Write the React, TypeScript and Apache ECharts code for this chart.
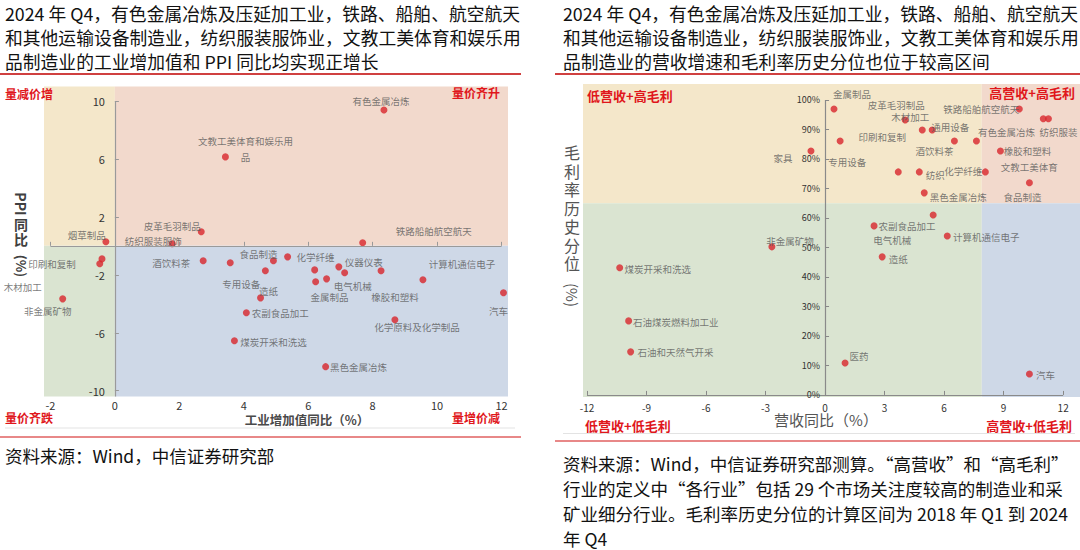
import React, { useEffect, useRef } from 'react';
import * as echarts from 'echarts';

const FONT = "'Noto Sans CJK SC', 'Noto Sans', sans-serif";

// ---------- texts ----------
const titleCommon = [
  '2024 年 Q4，有色金属冶炼及压延加工业，铁路、船舶、航空航天',
  '和其他运输设备制造业，纺织服装服饰业，文教工美体育和娱乐用',
];
const leftTitleLast = '品制造业的工业增加值和 PPI 同比均实现正增长';
const rightTitleLast = '品制造业的营收增速和毛利率历史分位也位于较高区间';
const leftSource = ['资料来源：Wind，中信证券研究部'];
const rightSource = [
  '资料来源：Wind，中信证券研究部测算。“高营收”和“高毛利”',
  '行业的定义中“各行业”包括 29 个市场关注度较高的制造业和采',
  '矿业细分行业。毛利率历史分位的计算区间为 2018 年 Q1 到 2024',
  '年 Q4',
];
const leftCorners = ['量减价增', '量价齐升', '量价齐跌', '量增价减'];
const rightCorners = ['低营收+高毛利', '高营收+高毛利', '低营收+低毛利', '高营收+低毛利'];

// ---------- left chart data: 工业增加值同比 vs PPI同比 ----------
const leftIndustries = [
  '有色金属冶炼', '文教工美体育和娱乐用品', '皮革毛羽制品', '烟草制品', '纺织服装服饰',
  '铁路船舶航空航天', '印刷和复制', '木材加工', '非金属矿物', '酒饮料茶',
  '纺织', '食品制造', '专用设备', '造纸', '农副食品加工',
  '煤炭开采和洗选', '化学纤维', '通用设备', '医药', '金属制品',
  '仪器仪表', '电气机械', '橡胶和塑料', '计算机通信电子', '汽车',
  '化学原料及化学制品', '黑色金属冶炼',
];
const leftValueAddedYoY = [
  8.35, 3.43, 2.68, -0.28, 1.78,
  7.69, -0.4, -0.47, -1.62, 2.74,
  3.58, 4.92, 4.67, 4.52, 4.08,
  3.71, 5.36, 6.2, 6.23, 6.57,
  6.95, 7.13, 8.26, 9.56, 12.06,
  8.69, 6.54,
];
const leftPpiYoY = [
  9.38, 6.14, 0.97, 0.28, 0.14,
  0.21, -0.9, -1.24, -3.66, -1.03,
  -1.17, -1.03, -1.72, -3.59, -4.62,
  -6.55, -0.76, -1.66, -2.48, -2.28,
  -1.45, -1.86, -1.72, -2.34, -3.24,
  -5.1, -8.34,
];
const leftXTicks = [-2, 0, 2, 4, 6, 8, 10, 12];
const leftYTicks = [-10, -6, -2, 2, 6, 10];

// ---------- right chart data: 营收同比 vs 毛利率历史分位 ----------
const rightIndustries = [
  '金属制品', '印刷和复制', '家具', '皮革毛羽制品', '木材加工',
  '通用设备', '酒饮料茶', '有色金属冶炼', '铁路船舶航空航天', '文教工美体育',
  '纺织服装', '橡胶和塑料', '专用设备', '纺织', '化学纤维',
  '食品制造', '黑色金属冶炼', '电气机械', '农副食品加工', '计算机通信电子',
  '非金属矿物', '煤炭开采和洗选', '石油煤炭燃料加工业', '石油和天然气开采', '造纸',
  '医药', '汽车',
];
const rightRevenueYoY = [
  0.45, 0.76, -0.71, 4.04, 4.9,
  5.4, 6.52, 7.63, 9.79, 11.0,
  11.26, 8.84, 3.69, 4.75, 8.08,
  10.3, 5.0, 5.45, 2.47, 6.16,
  -2.68, -10.35, -9.9, -9.8, 2.88,
  1.01, 10.3,
];
const rightMarginPct = [
  96.9, 86.1, 82.7, 93.2, 89.8,
  89.8, 86.1, 86.1, 96.9, 93.6,
  93.6, 82.7, 75.6, 75.6, 75.6,
  71.9, 68.5, 61.0, 57.3, 53.9,
  50.2, 43.1, 25.1, 14.6, 46.8,
  10.8, 7.1,
];
const rightXTicks = [-12, -9, -6, -3, 0, 3, 6, 9, 12];
const rightYTicks = [0, 10, 20, 30, 40, 50, 60, 70, 80, 90, 100];
const rightRevenueThreshold = 7.9;
const rightMarginThreshold = 65;

// ---------- layout (label offsets from dot centre, px) ----------
const leftLabelOffset: Record<string, [number, number]> = {
  '有色金属冶炼': [-3, -9],
  '文教工美体育和娱乐用品': [20, -8],
  '皮革毛羽制品': [-29, -6],
  '烟草制品': [-19, -7],
  '纺织服装服饰': [-19, -3],
  '铁路船舶航空航天': [71, -12],
  '印刷和复制': [-50, 5],
  '木材加工': [-77, 23],
  '非金属矿物': [-15, 12],
  '酒饮料茶': [-32, 2],
  '食品制造': [-15, -7],
  '专用设备': [-24, 13],
  '造纸': [8, -7],
  '农副食品加工': [34, 0],
  '煤炭开采和洗选': [39, 1],
  '化学纤维': [28, 0],
  '金属制品': [3, 18],
  '仪器仪表': [25, -5],
  '电气机械': [8, 13],
  '橡胶和塑料': [14, 26],
  '计算机通信电子': [39, -16],
  '汽车': [-5, 18],
  '化学原料及化学制品': [22, 7],
  '黑色金属冶炼': [33, 0],
};
const leftLabelText: Record<string, string> = {
  '文教工美体育和娱乐用品': '文教工美体育和娱乐用\n品',
};
const rightLabelOffset: Record<string, [number, number]> = {
  '金属制品': [18, -15],
  '印刷和复制': [42, -4],
  '家具': [-28, 7],
  '皮革毛羽制品': [-9, -15],
  '木材加工': [-12, -13],
  '通用设备': [18, -3],
  '酒饮料茶': [-20, 10],
  '有色金属冶炼': [30, -9],
  '铁路船舶航空航天': [-38, 0],
  '文教工美体育': [-14, 48],
  '纺织服装': [10, 13],
  '橡胶和塑料': [27, 0],
  '专用设备': [-51, -10],
  '纺织': [16, 3],
  '化学纤维': [-22, -1],
  '食品制造': [-7, 14],
  '黑色金属冶炼': [34, 4],
  '电气机械': [-41, 25],
  '农副食品加工': [33, 0],
  '计算机通信电子': [39, 1],
  '非金属矿物': [18, -6],
  '煤炭开采和洗选': [38, 1],
  '石油煤炭燃料加工业': [47, 1],
  '石油和天然气开采': [45, 0],
  '造纸': [16, 2],
  '医药': [14, -7],
  '汽车': [16, 1],
};

const C_YELLOW = '#F4E7CA';
const C_PINK = '#F2D9CC';
const C_GREEN = '#DAE4D1';
const C_BLUE = '#CED8E7';
const C_RED = '#E0161B';
const C_DOT = '#D8262C';

function buildOption() {
  const LX = [-2.2, 12.2];
  const LY = [-10.4, 11];
  const RX = [-12.2, 12.85];
  const RY = [-0.7, 105.4];
  const LG = { left: 44, top: 86.5, width: 464, height: 310 };
  const RG = { left: 583, top: 84, width: 497, height: 313 };

  // pixel positions of the zero of each axis (for the crossing axes)
  const lx0 = LG.left + ((0 - LX[0]) / (LX[1] - LX[0])) * LG.width;
  const ly0 = LG.top + ((LY[1] - 0) / (LY[1] - LY[0])) * LG.height;
  const rx0 = RG.left + ((0 - RX[0]) / (RX[1] - RX[0])) * RG.width;
  const ry0 = RG.top + ((RY[1] - 0) / (RY[1] - RY[0])) * RG.height;

  const grids = [
    LG,
    RG,
    { left: lx0, top: LG.top, width: 20, height: LG.height }, // left y axis at x=0
    { left: LG.left, top: LG.top, width: LG.width, height: ly0 - LG.top }, // left x axis at y=0
    { left: rx0, top: RG.top, width: 20, height: RG.height }, // right y axis at x=0
    { left: RG.left, top: RG.top, width: RG.width, height: ry0 - RG.top }, // right x axis at y=0
  ];

  const hiddenAxis = (gridIndex: number, min: number, max: number) => ({
    gridIndex, type: 'value', min, max, show: false, splitLine: { show: false },
  });

  const leftData = leftIndustries.map((name, i) => {
    const off = leftLabelOffset[name];
    return {
      name,
      value: [leftValueAddedYoY[i], leftPpiYoY[i]],
      label: off ? { show: true, offset: off } : { show: false },
    };
  });
  const rightData = rightIndustries.map((name, i) => {
    const off = rightLabelOffset[name];
    return {
      name,
      value: [rightRevenueYoY[i], rightMarginPct[i]],
      label: off ? { show: true, offset: off } : { show: false },
    };
  });

  const labelBase = {
    show: true,
    position: 'inside',
    fontSize: 9.5,
    color: '#595959',
    fontFamily: FONT,
    lineHeight: 16,
    textBorderWidth: 0,
  };

  const textEl = (text: string, x: number, y: number, style: any = {}, extra: any = {}) => ({
    type: 'text',
    x,
    y,
    z: 100,
    silent: true,
    ...extra,
    style: { text, fontFamily: FONT, fill: '#000', ...style },
  });
  const lineEl = (x1: number, y1: number, x2: number, y2: number, stroke: string, lineWidth = 1) => ({
    type: 'line',
    z: 100,
    silent: true,
    shape: { x1, y1, x2, y2 },
    style: { stroke, lineWidth },
  });

  const titleStyle = { fontSize: 17.8, lineHeight: 24, verticalAlign: 'top', fill: '#111' };
  const srcStyle = { fontSize: 17.5, lineHeight: 25, verticalAlign: 'top', fill: '#111' };
  const cornerStyleL = { fontSize: 12, fontWeight: 'bold', fill: C_RED, verticalAlign: 'middle' };
  const cornerStyleR = { fontSize: 13, fontWeight: 'bold', fill: C_RED, verticalAlign: 'middle' };

  const graphic = [
    // titles
    textEl([...titleCommon, leftTitleLast].join('\n'), 5, 1, titleStyle),
    textEl([...titleCommon, rightTitleLast].join('\n'), 563, 1, titleStyle),
    lineEl(0, 74, 521, 74, '#C00000', 1.5),
    lineEl(555, 74, 1080, 74, '#C00000', 1.5),
    // bottom separators
    lineEl(5, 428, 515, 428, '#E3E3E3', 1),
    lineEl(0, 437, 521, 437, '#E06060', 1.5),
    lineEl(563, 433.5, 1075, 433.5, '#E3E3E3', 1),
    lineEl(555, 441, 1080, 441, '#E06060', 1.5),
    // sources
    textEl(leftSource.join('\n'), 5, 443, srcStyle),
    textEl(rightSource.join('\n'), 563, 451, srcStyle),
    // corner labels left
    textEl(leftCorners[0], 5, 93, cornerStyleL),
    textEl(leftCorners[1], 500, 92, { ...cornerStyleL, align: 'right' }),
    textEl(leftCorners[2], 5, 417, cornerStyleL),
    textEl(leftCorners[3], 500, 417, { ...cornerStyleL, align: 'right' }),
    // corner labels right
    textEl(rightCorners[0], 587, 95, cornerStyleR),
    textEl(rightCorners[1], 1075, 92, { ...cornerStyleR, align: 'right' }),
    textEl(rightCorners[2], 585, 425, cornerStyleR),
    textEl(rightCorners[3], 1072, 425, { ...cornerStyleR, align: 'right' }),
    // left axis names
    textEl('工业增加值同比（%）', 307, 419.5, { fontSize: 12.5, fontWeight: 'bold', fill: '#4a4a4a', align: 'center', verticalAlign: 'middle' }),
    textEl('PPI', 21, 204, { fontSize: 14, fontWeight: 'bold', fill: '#404040', align: 'center', verticalAlign: 'middle' }, { rotation: -Math.PI / 2 }),
    textEl('同\n比', 21, 231.5, { fontSize: 14, lineHeight: 15, fontWeight: 'bold', fill: '#404040', align: 'center', verticalAlign: 'middle' }),
    textEl('(%)', 21, 266, { fontSize: 13, fontWeight: 'bold', fill: '#404040', align: 'center', verticalAlign: 'middle' }, { rotation: -Math.PI / 2 }),
    // right axis names
    textEl('营收同比（%）', 826, 419, { fontSize: 15, fill: '#555', align: 'center', verticalAlign: 'middle' }),
    textEl('毛\n利\n率\n历\n史\n分\n位', 572, 207.5, { fontSize: 16, lineHeight: 18.5, fill: '#555', align: 'center', verticalAlign: 'middle' }),
    textEl('(%)', 572, 295, { fontSize: 15, fill: '#555', align: 'center', verticalAlign: 'middle' }, { rotation: -Math.PI / 2 }),
  ];

  return {
    animation: false,
    backgroundColor: '#ffffff',
    textStyle: { fontFamily: FONT },
    grid: grids,
    xAxis: [
      {
        gridIndex: 0, type: 'value', min: LX[0], max: LX[1], position: 'bottom', z: 20,
        axisLine: { show: false, onZero: false },
        axisTick: { show: false },
        splitLine: { show: false },
        axisLabel: { customValues: leftXTicks, margin: 3, fontSize: 11, color: '#333' },
      },
      hiddenAxis(1, RX[0], RX[1]),
      hiddenAxis(2, 0, 1),
      {
        gridIndex: 3, type: 'value', min: LX[0], max: LX[1], position: 'bottom', z: 20,
        axisLine: { show: false, onZero: false },
        axisTick: { show: true, inside: true, length: 4, customValues: leftXTicks, lineStyle: { color: '#999' } },
        axisLabel: { show: false },
        splitLine: { show: false },
      },
      hiddenAxis(4, 0, 1),
      {
        gridIndex: 5, type: 'value', min: RX[0], max: RX[1], position: 'bottom', z: 20,
        axisLine: { show: false, onZero: false },
        axisTick: { show: true, inside: true, length: 4, customValues: rightXTicks, lineStyle: { color: '#888' } },
        axisLabel: { customValues: rightXTicks, margin: 8, fontSize: 10, color: '#333' },
        splitLine: { show: false },
      },
    ],
    yAxis: [
      hiddenAxis(0, LY[0], LY[1]),
      hiddenAxis(1, RY[0], RY[1]),
      {
        gridIndex: 2, type: 'value', min: LY[0], max: LY[1], position: 'left', z: 20,
        axisLine: { show: false, onZero: false },
        axisTick: { show: true, inside: true, length: 4, customValues: leftYTicks, lineStyle: { color: '#999' } },
        axisLabel: { customValues: leftYTicks, margin: 10, fontSize: 11, color: '#333' },
        splitLine: { show: false },
      },
      hiddenAxis(3, 0, LY[1]),
      {
        gridIndex: 4, type: 'value', min: RY[0], max: RY[1], position: 'left', z: 20,
        axisLine: { show: false, onZero: false },
        axisTick: { show: true, inside: true, length: 4, customValues: rightYTicks, lineStyle: { color: '#888' } },
        axisLabel: { customValues: rightYTicks, formatter: '{value}%', margin: 5, fontSize: 9, color: '#333' },
        splitLine: { show: false },
      },
      hiddenAxis(5, 0, RY[1]),
    ],
    series: [
      {
        type: 'scatter',
        xAxisIndex: 0,
        yAxisIndex: 0,
        symbolSize: 7,
        itemStyle: { color: C_DOT },
        label: { ...labelBase, formatter: (p: any) => leftLabelText[p.name] ?? p.name },
        data: leftData,
        markArea: {
          silent: true,
          data: [
            [{ xAxis: LX[0], yAxis: 0, itemStyle: { color: C_YELLOW } }, { xAxis: 0, yAxis: LY[1] }],
            [{ xAxis: 0, yAxis: 0, itemStyle: { color: C_PINK } }, { xAxis: LX[1], yAxis: LY[1] }],
            [{ xAxis: LX[0], yAxis: LY[0], itemStyle: { color: C_GREEN } }, { xAxis: 0, yAxis: 0 }],
            [{ xAxis: 0, yAxis: LY[0], itemStyle: { color: C_BLUE } }, { xAxis: LX[1], yAxis: 0 }],
          ],
        },
        markLine: {
          silent: true,
          symbol: ['none', 'none'],
          label: { show: false },
          lineStyle: { color: '#9a9a9a', width: 1.2, type: 'solid' },
          data: [
            [{ coord: [leftXTicks[0], 0] }, { coord: [leftXTicks[leftXTicks.length - 1], 0] }],
            [{ coord: [0, LY[0]] }, { coord: [0, leftYTicks[leftYTicks.length - 1]] }],
          ],
        },
      },
      {
        type: 'scatter',
        xAxisIndex: 1,
        yAxisIndex: 1,
        symbolSize: 7,
        itemStyle: { color: C_DOT },
        label: { ...labelBase, formatter: '{b}' },
        data: rightData,
        markArea: {
          silent: true,
          data: [
            [{ xAxis: RX[0], yAxis: rightMarginThreshold, itemStyle: { color: C_YELLOW } }, { xAxis: rightRevenueThreshold, yAxis: RY[1] }],
            [{ xAxis: rightRevenueThreshold, yAxis: rightMarginThreshold, itemStyle: { color: C_PINK } }, { xAxis: RX[1], yAxis: RY[1] }],
            [{ xAxis: RX[0], yAxis: RY[0], itemStyle: { color: C_GREEN } }, { xAxis: rightRevenueThreshold, yAxis: rightMarginThreshold }],
            [{ xAxis: rightRevenueThreshold, yAxis: RY[0], itemStyle: { color: C_BLUE } }, { xAxis: RX[1], yAxis: rightMarginThreshold }],
          ],
        },
        markLine: {
          silent: true,
          symbol: ['none', 'none'],
          label: { show: false },
          lineStyle: { color: '#8a8a8a', width: 1.2, type: 'solid' },
          data: [
            [{ coord: [rightXTicks[0], 0] }, { coord: [rightXTicks[rightXTicks.length - 1], 0] }],
            [{ coord: [0, 0] }, { coord: [0, rightYTicks[rightYTicks.length - 1]] }],
          ],
        },
      },
    ],
    graphic,
  };
}

export default function App() {
  const ref = useRef<HTMLDivElement>(null);
  useEffect(() => {
    if (!ref.current) return;
    const chart = echarts.init(ref.current, null, { renderer: 'svg' });
    chart.setOption(buildOption() as any);
    return () => chart.dispose();
  }, []);
  return (
    <div
      ref={ref}
      style={{ position: 'fixed', left: 0, top: 0, width: 1080, height: 550, background: '#fff' }}
    />
  );
}
